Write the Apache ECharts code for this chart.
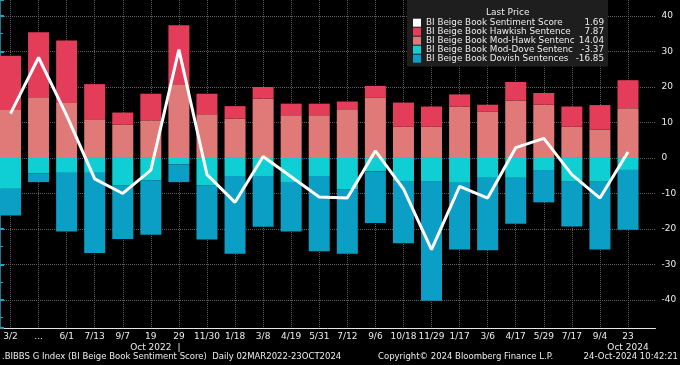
<!DOCTYPE html>
<html><head><meta charset="utf-8">
<script src="https://cdn.jsdelivr.net/npm/echarts@6/dist/echarts.min.js"></script>
<style>html,body{margin:0;padding:0;background:#000}#c{width:680px;height:365px}</style>
</head><body><div id="c"></div>
<script>
// ---- data ----
const categories = ['3/2','...','6/1','7/13','9/7','19\nOct 2022','29\n|','11/30','1/18','3/8','4/19','5/31','7/12','9/6','10/18','11/29','1/17','3/6','4/17','5/29','7/17','9/4','23\nOct 2024'];
const sentiment = [12.5, 28.3, 12.0, -5.9, -10.0, -3.4, 30.5, -4.7, -12.5, 0.4, -5.3, -11.0, -11.3, 2.0, -8.7, -25.8, -8.0, -11.3, 2.9, 5.5, -4.7, -11.3, 1.69];
const hawkish   = [15.3, 18.3, 17.6, 9.9, 3.4, 7.5, 16.6, 5.8, 3.5, 3.3, 3.3, 3.3, 2.2, 3.3, 6.8, 5.7, 3.4, 2.0, 5.2, 3.3, 5.7, 6.9, 7.87];
const modHawk   = [13.5, 17.1, 15.5, 10.9, 9.4, 10.6, 20.8, 12.3, 11.1, 16.7, 12.0, 12.0, 13.7, 17.0, 8.8, 8.8, 14.5, 13.0, 16.2, 15.0, 8.8, 8.0, 14.04];
const modDove   = [-8.7, -4.4, -4.2, -4.2, -7.8, -6.3, -1.8, -7.8, -5.1, -5.1, -6.8, -5.1, -8.9, -3.8, -6.7, -6.7, -7.0, -5.6, -5.6, -3.4, -6.7, -6.7, -3.37];
const dovish    = [-7.5, -2.4, -16.5, -22.6, -15.0, -15.3, -5.0, -15.2, -21.9, -14.3, -13.9, -21.2, -18.1, -14.5, -17.3, -33.5, -18.8, -20.4, -12.9, -9.1, -12.6, -19.1, -16.85];
const seriesNames = ['BI Beige Book Sentiment Score','BI Beige Book Hawkish Sentence','BI Beige Book Mod-Hawk Sentenc','BI Beige Book Mod-Dove Sentenc','BI Beige Book Dovish Sentences'];
const yMin = -47.9, yMax = 44.5;

// ---- chart ----
const FONT = '"DejaVu Sans", Verdana, sans-serif';
const TXT = '#ececec';
const AX = '#2a9fbf';
const GRID = '#5e5e5e';
const seriesData = [sentiment, hawkish, modHawk, modDove, dovish];
const lastVals = {};
seriesNames.forEach((n, i) => { const d = seriesData[i]; lastVals[n] = d[d.length - 1].toFixed(2); });

const chart = echarts.init(document.getElementById('c'), null, {renderer: 'canvas'});
const txt = (extra) => Object.assign({color: TXT, fontSize: 9, fontWeight: 'normal', fontFamily: FONT}, extra || {});
const LF = 8.8;
chart.setOption({
  backgroundColor: '#000',
  animation: false,
  textStyle: {fontFamily: FONT},
  grid: [
    {left: 10.5, right: 52, top: 0, bottom: 37, containLabel: false, outerBoundsMode: 'none'},
    {left: 0, right: 24.5, top: 0, bottom: 37, containLabel: false, outerBoundsMode: 'none'}
  ],
  xAxis: [
    {type: 'category', gridIndex: 0, data: categories, boundaryGap: false,
     axisLine: {show: false},
     axisTick: {show: true, inside: true, length: 2, lineStyle: {color: '#dddddd'}},
     axisLabel: {interval: 0, color: TXT, fontSize: 9, lineHeight: 11, margin: 3, fontFamily: FONT, hideOverlap: false},
     splitLine: {show: true, lineStyle: {color: GRID, type: 'dotted', width: 1}}},
    {type: 'value', gridIndex: 1, min: 0, max: 1,
     axisLine: {show: true, onZero: false, lineStyle: {color: '#e6e6e6', width: 1}},
     axisTick: {show: false}, axisLabel: {show: false}, splitLine: {show: false}}
  ],
  yAxis: [
    {type: 'value', gridIndex: 0, min: yMin, max: yMax, show: false, splitLine: {show: false}},
    {type: 'value', gridIndex: 1, position: 'right', min: yMin, max: yMax, minInterval: 10, maxInterval: 10, splitNumber: 9,
     axisLine: {show: true, lineStyle: {color: AX, width: 1.5}},
     axisTick: {show: true, length: 4, lineStyle: {color: AX, width: 2}},
     minorTick: {show: true, splitNumber: 2, length: 3, lineStyle: {color: AX, width: 1}},
     axisLabel: {color: TXT, fontSize: 9, margin: 6, showMinLabel: false, showMaxLabel: false, fontFamily: FONT},
     splitLine: {show: true, showMinLine: false, showMaxLine: false, lineStyle: {color: GRID, type: 'dotted', width: 1}}}
  ],
  legend: {
    orient: 'vertical', left: 407, top: 0, padding: [18.2, 4, 3.3, 6],
    backgroundColor: '#1e1e1e', itemWidth: 8, itemHeight: 8, itemGap: 0, icon: 'rect',
    selectedMode: false,
    data: seriesNames,
    textStyle: {color: TXT, fontSize: LF, fontFamily: FONT,
      rich: {
        n: {width: 150, fontSize: LF, color: TXT, lineHeight: 11.7, fontFamily: FONT},
        v: {width: 28, align: 'right', fontSize: LF, color: TXT, lineHeight: 11.7, fontFamily: FONT}
      }},
    formatter: name => '{n|' + name + '}{v|' + lastVals[name] + '}'
  },
  title: [
    {text: 'Last Price', left: 486, top: 8, padding: 0, textStyle: txt({fontSize: 9})},
    {text: '.BIBBS G Index (BI Beige Book Sentiment Score)  Daily 02MAR2022-23OCT2024', left: 2, top: 352.5, padding: 0, textStyle: txt({fontSize: 8.5})},
    {text: 'Copyright\u00A9 2024 Bloomberg Finance L.P.', left: 378, top: 352.5, padding: 0, textStyle: txt({fontSize: 8.5})},
    {text: '24-Oct-2024 10:42:21', right: 2, top: 352.5, padding: 0, textStyle: txt({fontSize: 8.5})}
  ],
  series: [
    {name: seriesNames[2], type: 'bar', stack: 's', stackStrategy: 'samesign', xAxisIndex: 0, yAxisIndex: 0,
     data: modHawk, barWidth: 21, clip: false, itemStyle: {color: '#e07a78'}},
    {name: seriesNames[1], type: 'bar', stack: 's', stackStrategy: 'samesign', xAxisIndex: 0, yAxisIndex: 0,
     data: hawkish, barWidth: 21, clip: false, itemStyle: {color: '#e33d5a'}},
    {name: seriesNames[3], type: 'bar', stack: 's', stackStrategy: 'samesign', xAxisIndex: 0, yAxisIndex: 0,
     data: modDove, barWidth: 21, clip: false, itemStyle: {color: '#10cfd4'}},
    {name: seriesNames[4], type: 'bar', stack: 's', stackStrategy: 'samesign', xAxisIndex: 0, yAxisIndex: 0,
     data: dovish, barWidth: 21, clip: false, itemStyle: {color: '#0c9fc6'}},
    {name: seriesNames[0], type: 'line', xAxisIndex: 0, yAxisIndex: 0, data: sentiment,
     symbol: 'none', showSymbol: false, clip: false, z: 5,
     lineStyle: {color: '#ffffff', width: 3}, itemStyle: {color: '#ffffff'}}
  ]
});
</script>
</body></html>
